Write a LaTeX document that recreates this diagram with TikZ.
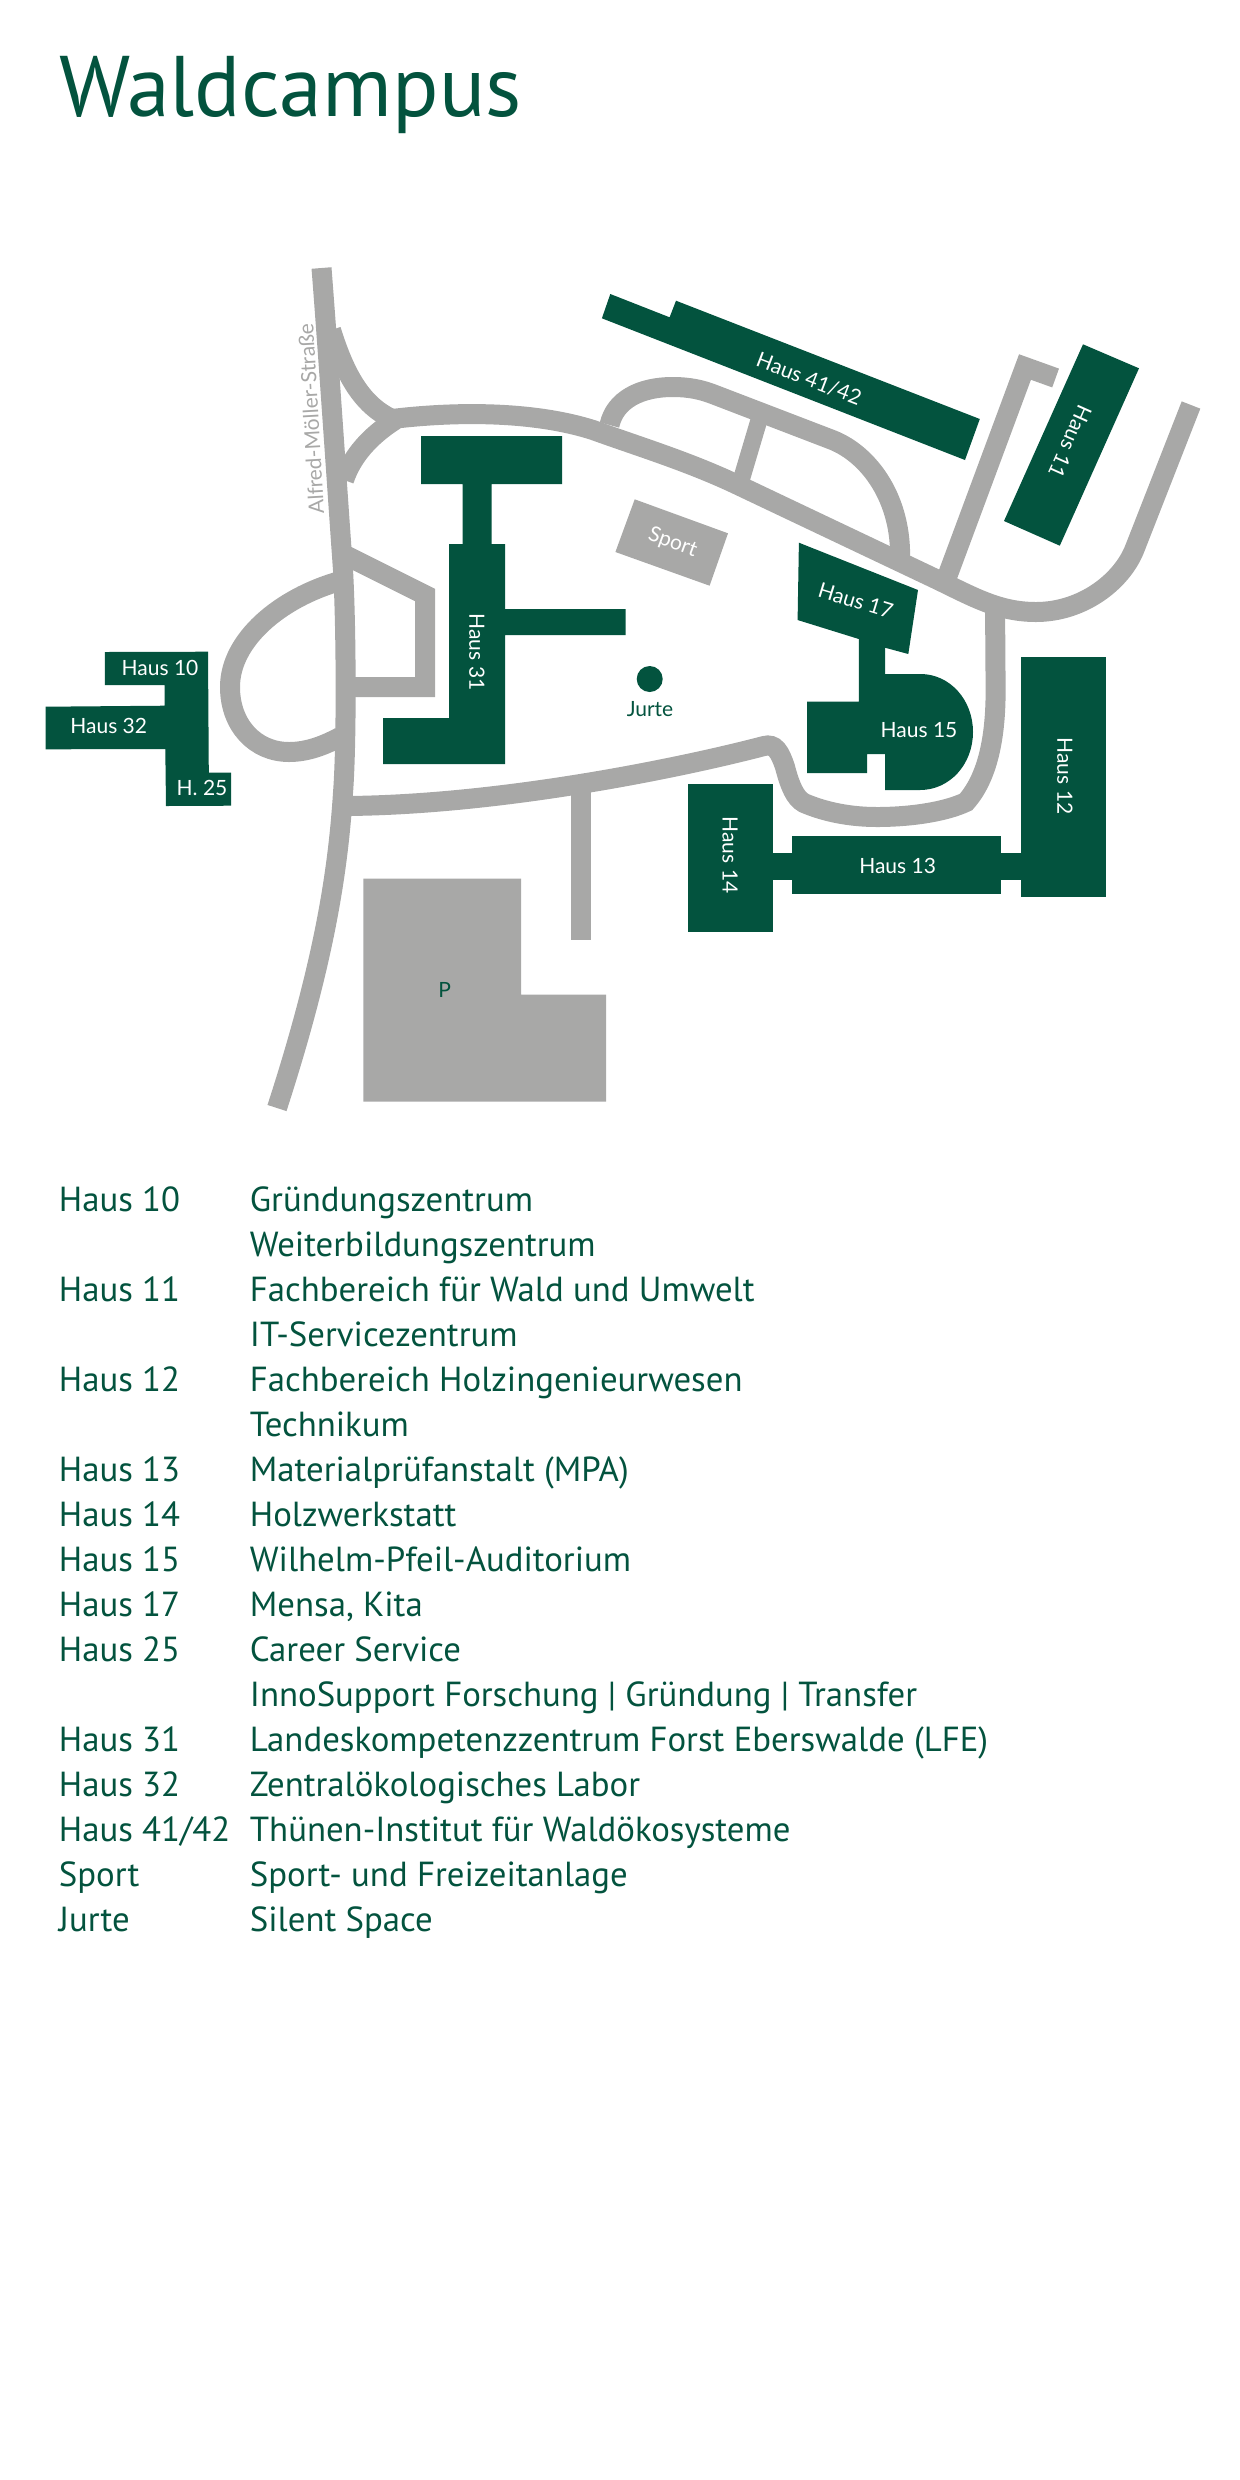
\documentclass[tikz,border=0pt]{standalone}
\usepackage{fontspec}
\setmainfont{Lato}
\newfontfamily\listfont{PT Sans}
\definecolor{campusgreen}{RGB}{3,83,62}
\definecolor{roadgray}{RGB}{168,168,167}
\tikzset{
  road/.style={draw=roadgray, line width=10pt},
  house/.style={fill=campusgreen},
  houselabel/.style={text=white, inner sep=0pt, font=\fontsize{10.5}{12}\selectfont},
  maplabel/.style={text=campusgreen, inner sep=0pt, font=\fontsize{10.5}{12}\selectfont},
  listentry/.style={text=campusgreen, inner sep=0pt, anchor=base west, font=\listfont\fontsize{17.4}{18}\selectfont}
}
\begin{document}
\begin{tikzpicture}[x=0.5pt,y=-0.5pt]
  \useasboundingbox (0,0) rectangle (1240,2480);

  \node[text=campusgreen, inner sep=0pt, anchor=base west, font=\listfont\fontsize{43}{50}\selectfont] (title) at (59,116) {Waldcampus};

  % roads
  \draw[road] (321.5,268) .. controls (328,350) and (338,500) .. (343,570) .. controls (346,620) and (347,740) .. (343,793) .. controls (338,870) and (325,960) .. (277,1108);
  \draw[road] (331,330) .. controls (345,375) and (362,405) .. (392,419);
  \draw[road] (344,480) .. controls (352,456) and (370,436) .. (395,420);
  \draw[road] (392,419) .. controls (450,412) and (530,410) .. (593,430) .. controls (640,447) and (690,462) .. (740,486) -- (938,580)
    .. controls (975,598) and (1000,612) .. (1036,612) .. controls (1082,612) and (1122,582) .. (1135,548) -- (1191,405);
  \draw[road] (609.5,425) .. controls (615,400) and (640,387) .. (672.6,387) .. controls (690,387) and (702,390) .. (712.6,394) -- (832.5,440)
    .. controls (870,455) and (902,500) .. (900,560);
  \draw[road, line width=8.5pt] (759,420) -- (740,484);
  \draw[road] (947,577) -- (1025,367) -- (1055.6,378);
  \draw[road] (995,600) -- (995.6,687) .. controls (996,730) and (990,775) .. (966,802) .. controls (945,812) and (910,817) .. (877,817)
    .. controls (850,817) and (825,812) .. (804,803) .. controls (795,798) and (790,786) .. (785,767) .. controls (780,752) and (775,743) .. (764,746)
    .. controls (680,768) and (500,805) .. (345,806);
  \draw[road] (581,785) -- (581,940);
  \draw[road] (340,581) .. controls (280,598) and (230,640) .. (230,687) .. controls (230,725) and (255,752) .. (289,752) .. controls (308,752) and (325,745) .. (340,737);
  \draw[road] (345,555) -- (425,595) -- (425,687) -- (345,687);

  % grey areas
  \fill[roadgray] (363.4,878.7) -- (521,878.7) -- (521,994.7) -- (606,994.7) -- (606,1101.7) -- (363.4,1101.7) -- cycle;
  \fill[roadgray] (634.7,499.3) -- (728,533.3) -- (709.6,585.7) -- (615.4,552) -- cycle;

  % houses
  \fill[house] (421,436) -- (562,436) -- (562,484) -- (491.5,484) -- (491.5,544) -- (505,544) -- (505,609) -- (625.5,609) -- (625.5,635) -- (505,635) -- (505,764) -- (383,764) -- (383,718) -- (449,718) -- (449,544) -- (462.6,544) -- (462.6,484) -- (421,484) -- cycle;
  \fill[house] (610.3,294) -- (669.6,317.3) -- (676,300.7) -- (979.8,419) -- (965,460) -- (601.9,318.3) -- cycle;
  \fill[house] (1083,344.3) -- (1139,368.3) -- (1059.8,545.7) -- (1004,521) -- cycle;
  \fill[house] (798.9,542.7) -- (918,590) -- (908.3,654) -- (885,647.7) -- (885,674) -- (920.5,674)
    .. controls (950,674) and (973,700) .. (973,732) .. controls (973,764) and (950,790) .. (920,790)
    -- (885,790) -- (885,754) -- (867,754) -- (867,773) -- (807,773) -- (807,701.7) -- (858.8,701.7) -- (858.8,639) -- (797.6,620) -- cycle;
  \fill[house] (1020.6,657.3) rectangle (1106,896.7);
  \fill[house] (792.4,836) rectangle (1001,894.3);
  \fill[house] (773,853.3) rectangle (1020.6,880);
  \fill[house] (688,783.7) rectangle (773,931.7);
  \fill[house] (104.8,652) -- (208,651.7) -- (208.8,772.7) -- (231,772.7) -- (231,805.7) -- (166,806) -- (165.3,749) -- (45.5,749.3) -- (45.5,706.7) -- (164.5,705.7) -- (164.5,685) -- (104.8,685) -- cycle;
  \fill[house] (649.7,679) circle (6.5pt);

  % labels on the map
  \node[houselabel] (haus10) at (160,667.7) {Haus 10};
  \node[houselabel] (haus32) at (108.7,725.7) {Haus 32};
  \node[houselabel] (haus25) at (202,788) {H. 25};
  \node[houselabel, rotate=-90] (haus31) at (477,652) {Haus 31};
  \node[houselabel, rotate=-21] (haus41) at (809,379) {Haus 41/42};
  \node[houselabel, rotate=-114] (haus11) at (1070,442) {Haus 11};
  \node[houselabel, rotate=-17] (haus17) at (855.7,600.7) {Haus 17};
  \node[houselabel] (haus15) at (919,730) {Haus 15};
  \node[houselabel, rotate=-90] (haus12) at (1064.8,776) {Haus 12};
  \node[houselabel] (haus13) at (897.6,866) {Haus 13};
  \node[houselabel, rotate=-90] (haus14) at (730,855) {Haus 14};
  \node[houselabel, rotate=-20] (sport) at (672.6,542.7) {Sport};
  \node[maplabel] (jurte) at (650,709) {Jurte};
  \node[maplabel] (parking) at (444.8,990) {P};
  \node[text=roadgray, inner sep=0pt, rotate=93.3, font=\fontsize{10.5}{12}\selectfont] (street) at (311,419) {Alfred-Möller-Straße};

  % list of houses
  \foreach \rowno/\rowhouse/\rowtext in {
    0/Haus 10/Gründungszentrum,
    1//Weiterbildungszentrum,
    2/Haus 11/Fachbereich für Wald und Umwelt,
    3//IT-Servicezentrum,
    4/Haus 12/Fachbereich Holzingenieurwesen,
    5//Technikum,
    6/Haus 13/Materialprüfanstalt (MPA),
    7/Haus 14/Holzwerkstatt,
    8/Haus 15/Wilhelm-Pfeil-Auditorium,
    9/Haus 17/{Mensa, Kita},
    10/Haus 25/Career Service,
    11//InnoSupport Forschung | Gründung | Transfer,
    12/Haus 31/Landeskompetenzzentrum Forst Eberswalde (LFE),
    13/Haus 32/Zentralökologisches Labor,
    14/Haus 41\slash 42/Thünen-Institut für Waldökosysteme,
    15/Sport/Sport- und Freizeitanlage,
    16/Jurte/Silent Space} {
    \node[listentry] (rowkey\rowno) at (58.5,1211.7+45*\rowno) {\rowhouse};
    \node[listentry] (rowval\rowno) at (249.5,1211.7+45*\rowno) {\rowtext};
  }
\end{tikzpicture}
\end{document}
